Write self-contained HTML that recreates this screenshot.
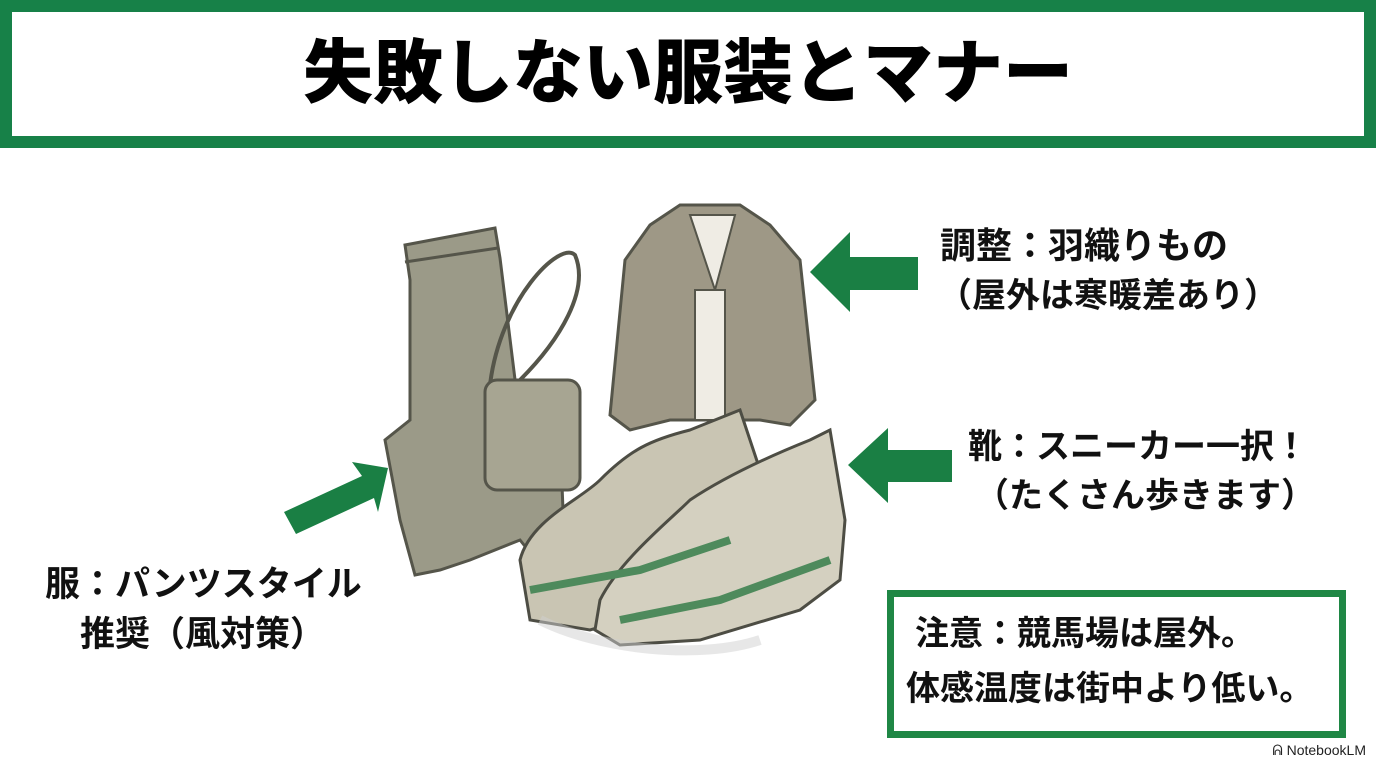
<!DOCTYPE html>
<html><head><meta charset="utf-8"><style>
body{margin:0;width:1376px;height:768px;background:#fff;position:relative;overflow:hidden;font-family:"Liberation Sans","Noto Sans CJK JP",sans-serif;}
.hdr{position:absolute;left:0;top:0;width:1376px;height:148px;box-sizing:border-box;border:12px solid #178148;background:#fff;}
.title{position:absolute;left:0;width:1376px;top:28px;text-align:center;font-size:70px;font-weight:900;line-height:90px;color:#000;}
.t{position:absolute;font-weight:700;line-height:40px;color:#111;white-space:nowrap;}
.box{position:absolute;left:887px;top:590px;width:459px;height:148px;box-sizing:border-box;border:7px solid #1f8745;}
.nb{position:absolute;right:10px;top:742px;font-size:14px;color:#222;}
</style></head><body>
<div class="hdr"></div>
<div class="title">失敗しない服装とマナー</div>

<svg width="1376" height="768" style="position:absolute;left:0;top:0">
<polygon points="810,272 850,232 850,257 918,257 918,290 850,290 850,312" fill="#1a7f44"/>
<polygon points="848,465 888,428 888,450 952,450 952,482 888,482 888,503" fill="#1a7f44"/>
<polygon points="388,468 352,462 362,476 284,512 296,534 374,498 378,512" fill="#1a7f44"/>
<path d="M405,245 L495,228 L500,258 L520,420 L560,435 L565,560 L540,565 L520,540 L470,560 L440,570 L415,575 L400,520 L385,440 L410,420 L410,280 Z" fill="#9b9a88" stroke="#55554a" stroke-width="3"/>
<path d="M405,262 L498,248" stroke="#55554a" stroke-width="3"/>
<path d="M490,385 C500,300 560,240 575,255 C590,290 560,340 520,380" fill="none" stroke="#55554a" stroke-width="4"/>
<rect x="485" y="380" width="95" height="110" rx="12" fill="#a7a592" stroke="#55554a" stroke-width="3"/>
<path d="M680,205 L740,205 L770,225 L800,260 L815,400 L790,425 L760,420 L720,420 L670,420 L630,430 L610,415 L625,260 L650,225 Z" fill="#9e9886" stroke="#55554a" stroke-width="3"/>
<path d="M690,215 L735,215 L715,290 Z" fill="#efece4" stroke="#55554a" stroke-width="2"/>
<rect x="695" y="290" width="30" height="130" fill="#efece4" stroke="#55554a" stroke-width="2"/>
<path d="M520,560 C530,520 580,500 600,480 C630,450 650,440 690,430 L740,410 L760,470 L770,540 L740,580 L660,610 L590,630 L530,620 Z" fill="#c9c5b3" stroke="#4d4d44" stroke-width="3"/>
<path d="M600,600 C620,560 670,520 690,500 C720,480 760,460 810,440 L830,430 L845,520 L840,580 L800,610 L700,640 L620,645 L595,630 Z" fill="#d4d0c0" stroke="#4d4d44" stroke-width="3"/>
<path d="M620,620 L720,600 L830,560" stroke="#4e8a5c" stroke-width="8" fill="none"/>
<path d="M530,590 L640,570 L730,540" stroke="#4e8a5c" stroke-width="8" fill="none"/>
<path d="M540,620 C600,650 700,660 760,640" stroke="#cfcfcf" stroke-width="10" fill="none" opacity=".5"/>
</svg>

<div class="t" style="left:940px;top:226px;font-size:36px">調整：羽織りもの</div>
<div class="t" style="left:938px;top:276px;font-size:34px">（屋外は寒暖差あり）</div>
<div class="t" style="left:968px;top:427px;font-size:34px">靴：スニーカー一択！</div>
<div class="t" style="left:975px;top:476px;font-size:34px">（たくさん歩きます）</div>
<div class="t" style="left:45px;top:565px;font-size:35px">服：パンツスタイル</div>
<div class="t" style="left:80px;top:615px;font-size:35px">推奨（風対策）</div>
<div class="box"></div>
<div class="t" style="left:915px;top:614px;font-size:34px">注意：競馬場は屋外。</div>
<div class="t" style="left:906px;top:669px;font-size:34px">体感温度は街中より低い。</div>
<div class="nb">ᕱ NotebookLM</div>
</body></html>
